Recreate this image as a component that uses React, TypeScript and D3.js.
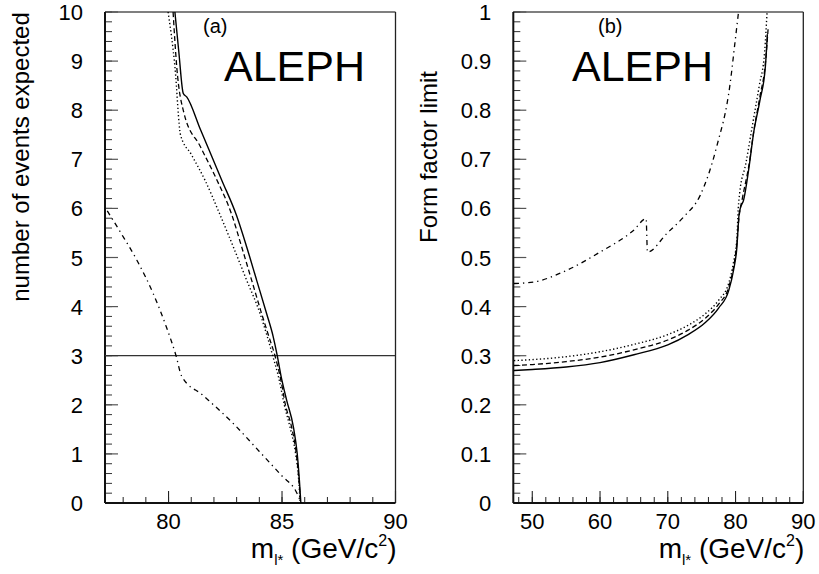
import React from "react";
import * as d3 from "d3";

type P = [number, number];

// Panel (a): number of events expected vs m_l*
const aSolid: P[] = [
  [80.28, 10.0], [80.45, 9.2], [80.65, 8.34], [80.8, 8.27], [81.41, 7.6], [82.34, 6.58],
  [83.0, 5.85], [83.44, 5.22], [83.88, 4.54], [84.32, 3.86], [84.61, 3.39], [84.79, 3.0],
  [84.95, 2.6], [85.2, 2.1], [85.5, 1.55], [85.67, 1.0], [85.76, 0.5], [85.83, 0.0],
];
const aDashed: P[] = [
  [80.2, 10.0], [80.36, 8.89], [80.68, 7.94], [81.4, 7.26], [82.13, 6.58], [82.78, 5.88],
  [83.22, 5.22], [83.66, 4.54], [84.1, 3.86], [84.42, 3.39], [84.69, 3.0], [84.95, 2.5],
  [85.15, 2.0], [85.42, 1.55], [85.63, 1.0], [85.74, 0.5], [85.82, 0.0],
];
const aDotted: P[] = [
  [79.98, 10.0], [80.28, 8.89], [80.53, 7.49], [81.0, 7.1], [81.6, 6.58], [82.26, 5.88],
  [82.85, 5.22], [83.44, 4.54], [84.03, 3.86], [84.35, 3.39], [84.59, 3.0], [84.88, 2.5],
  [85.1, 2.0], [85.35, 1.55], [85.6, 1.0], [85.73, 0.5], [85.8, 0.0],
];
const aDashDot: P[] = [
  [77.3, 5.95], [77.9, 5.5], [78.6, 4.95], [79.32, 4.27], [79.9, 3.59], [80.33, 3.0],
  [80.58, 2.58], [81.5, 2.2], [82.85, 1.62], [84.0, 1.05], [85.0, 0.55], [85.6, 0.25], [85.85, 0.0],
];
const aThreshold = 3;
const aXMajor = [80, 85, 90];
const aYMajor = [0, 1, 2, 3, 4, 5, 6, 7, 8, 9, 10];

// Panel (b): form factor limit vs m_l*
const bSolid: P[] = [
  [47.3, 0.27], [50, 0.272], [55, 0.277], [60, 0.286], [65, 0.302], [70, 0.322],
  [73, 0.343], [75.5, 0.367], [77.5, 0.397], [79, 0.433], [79.7, 0.474], [80.2, 0.521],
  [80.5, 0.585], [80.7, 0.6], [81.17, 0.616], [82, 0.685], [82.65, 0.752], [83.6, 0.82],
  [84.4, 0.888], [84.7, 0.955],
];
const bDashed: P[] = [
  [47.3, 0.28], [50, 0.282], [55, 0.288], [60, 0.297], [65, 0.312], [70, 0.332],
  [73, 0.352], [75.5, 0.376], [77.5, 0.405], [79, 0.44], [79.7, 0.48], [80.2, 0.53],
  [80.5, 0.58], [81, 0.62], [82, 0.69], [82.7, 0.758], [83.6, 0.828], [84.4, 0.895], [84.8, 0.965],
];
const bDotted: P[] = [
  [47.3, 0.29], [50, 0.292], [55, 0.298], [60, 0.308], [65, 0.323], [70, 0.343],
  [73, 0.362], [75.5, 0.385], [77.5, 0.413], [79, 0.448], [79.7, 0.49], [80.2, 0.54],
  [80.4, 0.6], [80.6, 0.63], [81.5, 0.69], [82.5, 0.77], [83.5, 0.85], [84.3, 0.92], [84.65, 1.0],
];
const bDashDot: P[] = [
  [47.3, 0.447], [50.15, 0.45], [55.1, 0.474], [60, 0.511], [64.93, 0.555], [66.8, 0.579],
  [67.0, 0.511], [69.86, 0.549], [72.3, 0.582], [74.8, 0.627], [77.2, 0.725], [79.2, 0.854],
  [79.95, 0.942], [80.44, 1.0],
];
const bXMajor = [50, 60, 70, 80, 90];
const bYMajor = [0, 0.1, 0.2, 0.3, 0.4, 0.5, 0.6, 0.7, 0.8, 0.9, 1];

const FONT = "'Liberation Sans', Arial, Helvetica, sans-serif";

const styles = {
  solid: { dash: "none", w: 1.4 },
  dashed: { dash: "5,3", w: 1.3 },
  dotted: { dash: "1.3,2.4", w: 1.4 },
  dashdot: { dash: "5,4,1.3,4", w: 1.3 },
};

function range(a: number, b: number, step: number) {
  const out: number[] = [];
  for (let v = a; v <= b + 1e-9; v += step) out.push(Math.round(v * 1000) / 1000);
  return out;
}

interface PanelProps {
  id: string;
  x0: number; x1: number; y0: number; y1: number;
  xDomain: [number, number]; yDomain: [number, number];
  xMajor: number[]; xMinor: number[]; yMajor: number[]; yMinor: number[];
  yFmt: (v: number) => string;
  series: { data: P[]; style: keyof typeof styles }[];
  hline?: number;
  label: string; labelX: number;
  aleph: number;
  yTitle: string; yTitleX: number;
}

function Panel(p: PanelProps) {
  const x = d3.scaleLinear().domain(p.xDomain).range([p.x0, p.x1]);
  const y = d3.scaleLinear().domain(p.yDomain).range([p.y0, p.y1]);
  const line = d3.line<P>().x((d) => x(d[0])).y((d) => y(d[1])).curve(d3.curveMonotoneX);
  const clipId = "clip-" + p.id;
  return (
    <g>
      <defs>
        <clipPath id={clipId}>
          <rect x={p.x0} y={p.y1} width={p.x1 - p.x0} height={p.y0 - p.y1} />
        </clipPath>
      </defs>
      {/* frame */}
      <line x1={p.x0} x2={p.x1} y1={p.y1} y2={p.y1} stroke="#555" strokeWidth={1.5} />
      <line x1={p.x1} x2={p.x1} y1={p.y1} y2={p.y0} stroke="#222" strokeWidth={1.3} />
      {/* y ticks */}
      {p.yMinor.map((v, i) => (
        <line key={"ym" + i} x1={p.x0} x2={p.x0 + 7} y1={y(v)} y2={y(v)} stroke="#333" strokeWidth={1} />
      ))}
      {p.yMajor.map((v, i) => (
        <line key={"yM" + i} x1={p.x0} x2={p.x0 + 13} y1={y(v)} y2={y(v)} stroke="#555" strokeWidth={1.2} />
      ))}
      {/* x ticks */}
      {p.xMinor.map((v, i) => (
        <line key={"xm" + i} x1={x(v)} x2={x(v)} y1={p.y0} y2={p.y0 - 6} stroke="#222" strokeWidth={1} />
      ))}
      {p.xMajor.map((v, i) => (
        <line key={"xM" + i} x1={x(v)} x2={x(v)} y1={p.y0} y2={p.y0 - 12} stroke="#222" strokeWidth={1.1} />
      ))}
      <line x1={p.x0} x2={p.x0} y1={p.y1} y2={p.y0} stroke="#111" strokeWidth={2} />
      <line x1={p.x0} x2={p.x1} y1={p.y0} y2={p.y0} stroke="#111" strokeWidth={2} />
      {/* tick labels */}
      {p.yMajor.map((v, i) => (
        <text key={"yl" + i} x={p.x0 - 22} y={y(v) + 8} textAnchor="end" fontSize={22} fontFamily={FONT}>
          {p.yFmt(v)}
        </text>
      ))}
      {p.xMajor.map((v, i) => (
        <text key={"xl" + i} x={x(v)} y={529} textAnchor="middle" fontSize={22} fontFamily={FONT}>
          {String(v)}
        </text>
      ))}
      {/* curves */}
      <g clipPath={`url(#${clipId})`}>
        {p.hline !== undefined && (
          <line x1={p.x0} x2={p.x1} y1={y(p.hline)} y2={y(p.hline)} stroke="#333" strokeWidth={1.2} />
        )}
        {p.series.map((s, i) => (
          <path
            key={"s" + i}
            d={line(s.data) || ""}
            fill="none"
            stroke="#000"
            strokeWidth={styles[s.style].w}
            strokeDasharray={styles[s.style].dash}
          />
        ))}
      </g>
      {/* labels */}
      <text x={p.labelX} y={33} fontSize={20} fontFamily={FONT}>{p.label}</text>
      <text x={p.aleph} y={81} fontSize={43} fontFamily={FONT}>ALEPH</text>
      <text
        transform={`translate(${p.yTitleX},157) rotate(-90)`}
        textAnchor="middle"
        fontSize={24}
        fontFamily={FONT}
      >
        {p.yTitle}
      </text>
      {/* x title */}
      <text x={p.x1 + 1} y={558} textAnchor="end" fontSize={28} fontFamily={FONT}>
        m<tspan fontSize={15} dy={7}>l*</tspan>
        <tspan dy={-7}> (GeV/c</tspan>
        <tspan fontSize={16} dy={-12}>2</tspan>
        <tspan dy={12}>)</tspan>
      </text>
    </g>
  );
}

export default function App() {
  return (
    <svg width={819} height={574} style={{ display: "block", background: "#fff", position: "absolute", left: 0, top: 0 }}>
      <Panel
        id="a"
        x0={105} x1={395.5} y0={503} y1={12}
        xDomain={[77.2, 90]} yDomain={[0, 10]}
        xMajor={aXMajor} xMinor={range(78, 89, 1)}
        yMajor={aYMajor} yMinor={range(0, 10, 0.2)}
        yFmt={(v) => String(v)}
        series={[
          { data: aSolid, style: "solid" },
          { data: aDashed, style: "dashed" },
          { data: aDotted, style: "dotted" },
          { data: aDashDot, style: "dashdot" },
        ]}
        hline={aThreshold}
        label="(a)" labelX={203}
        aleph={224}
        yTitle="number of events expected" yTitleX={29}
      />
      <Panel
        id="b"
        x0={513.3} x1={803.3} y0={503} y1={12}
        xDomain={[47.2, 90]} yDomain={[0, 1]}
        xMajor={bXMajor} xMinor={range(48, 88, 2)}
        yMajor={bYMajor} yMinor={range(0, 1, 0.02)}
        yFmt={(v) => (v === 0 ? "0" : v === 1 ? "1" : v.toFixed(1))}
        series={[
          { data: bSolid, style: "solid" },
          { data: bDashed, style: "dashed" },
          { data: bDotted, style: "dotted" },
          { data: bDashDot, style: "dashdot" },
        ]}
        label="(b)" labelX={598}
        aleph={572}
        yTitle="Form factor limit" yTitleX={437}
      />
    </svg>
  );
}
